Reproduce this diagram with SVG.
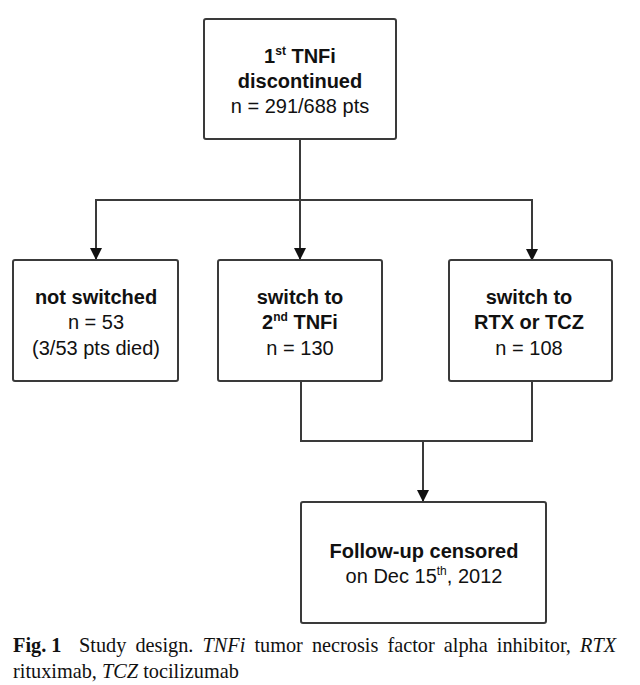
<svg xmlns="http://www.w3.org/2000/svg" width="640" height="685" viewBox="0 0 640 685">
<style>
.box{fill:#fff;stroke:#3a3a3a;stroke-width:2}
.ln{fill:none;stroke:#3a3a3a;stroke-width:2}
.t{font-family:"Liberation Sans",Arial,sans-serif;font-size:20px;fill:#111;text-anchor:middle}
.b{font-weight:bold}
.sup{font-size:12px}
.cap{font-family:"Liberation Serif","Times New Roman",serif;font-size:20.3px;fill:#111}
</style>
<defs>
<marker id="arr" viewBox="0 0 12 12" refX="11" refY="6" markerWidth="12" markerHeight="12" markerUnits="userSpaceOnUse" orient="auto">
<path d="M0,0 L12,6 L0,12 Z" fill="#111"/>
</marker>
</defs>
<rect width="640" height="685" fill="#fff"/>
<g id="connectors">
<path class="ln" d="M300,139 V200"/>
<path class="ln" d="M96,260 V200 H532 V260" marker-end="url(#arr)"/>
<path class="ln" d="M96,200 V259" marker-end="url(#arr)"/>
<path class="ln" d="M300,200 V259" marker-end="url(#arr)"/>
<path class="ln" d="M301,381 V441 H532 V381"/>
<path class="ln" d="M423,441 V501" marker-end="url(#arr)"/>
</g>
<g id="n-top">
<rect class="box" x="204" y="19" width="192" height="120" rx="2"/>
<text class="t b" x="300" y="63">1<tspan class="sup" dy="-8">st</tspan><tspan dy="8"> TNFi</tspan></text>
<text class="t b" x="300" y="88">discontinued</text>
<text class="t" x="300" y="113">n = 291/688 pts</text>
</g>
<g id="n-not">
<rect class="box" x="13" y="260" width="165" height="121" rx="2"/>
<text class="t b" x="96" y="304">not switched</text>
<text class="t" x="96" y="329">n = 53</text>
<text class="t" x="96" y="355">(3/53 pts died)</text>
</g>
<g id="n-tnfi">
<rect class="box" x="218" y="260" width="164" height="121" rx="2"/>
<text class="t b" x="300" y="304">switch to</text>
<text class="t b" x="300" y="329">2<tspan class="sup" dy="-8">nd</tspan><tspan dy="8"> TNFi</tspan></text>
<text class="t" x="300" y="355">n = 130</text>
</g>
<g id="n-rtx">
<rect class="box" x="449" y="260" width="163" height="121" rx="2"/>
<text class="t b" x="529" y="304">switch to</text>
<text class="t b" x="529" y="329">RTX or TCZ</text>
<text class="t" x="529" y="355">n = 108</text>
</g>
<g id="n-follow">
<rect class="box" x="301" y="502" width="245" height="121" rx="2"/>
<text class="t b" x="424" y="558">Follow-up censored</text>
<text class="t" x="424" y="583">on Dec 15<tspan class="sup" dy="-8">th</tspan><tspan dy="8">, 2012</tspan></text>
</g>
<g id="caption">
<text class="cap" x="13" y="652"><tspan font-weight="bold">Fig. 1</tspan><tspan x="79" word-spacing="4">Study design. <tspan font-style="italic">TNFi</tspan> tumor necrosis factor alpha inhibitor, <tspan font-style="italic">RTX</tspan></tspan></text>
<text class="cap" x="13" y="678">rituximab, <tspan font-style="italic">TCZ</tspan> tocilizumab</text>
</g>
</svg>
